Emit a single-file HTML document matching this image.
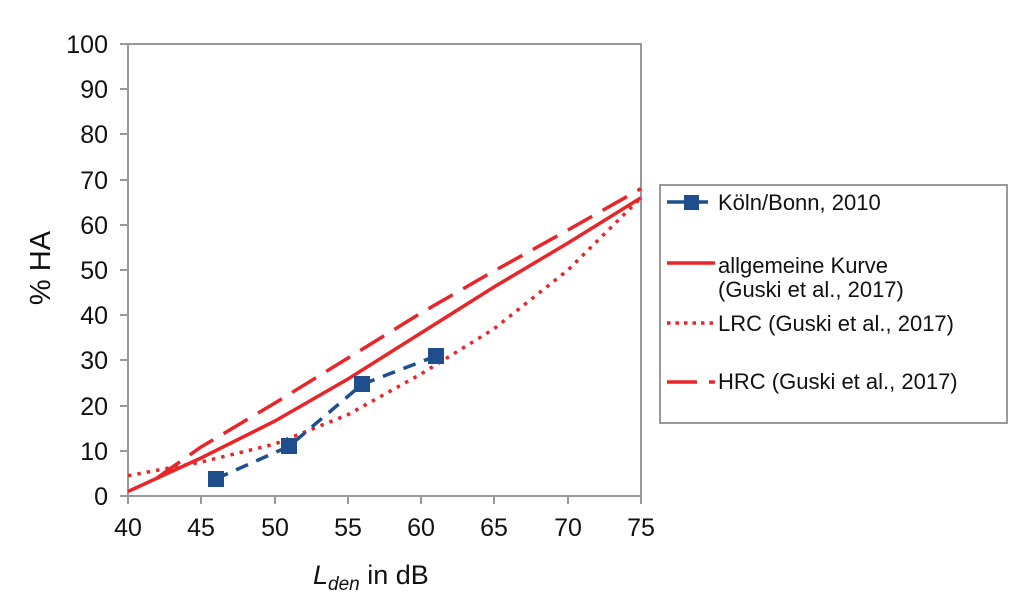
<!DOCTYPE html><html><head><style>body{margin:0;background:#fff}svg text{font-family:"Liberation Sans",sans-serif}</style></head><body>
<svg width="1024" height="599" viewBox="0 0 1024 599">
<g stroke="#999" stroke-width="2" fill="none">
<path d="M128,44H641V496H128Z"/>
<path d="M120,44H128M120,89H128M120,134H128M120,180H128M120,225H128M120,270H128M120,315H128M120,360H128M120,406H128M120,451H128M120,496H128"/>
<path d="M128,496V504M201,496V504M275,496V504M348,496V504M421,496V504M494,496V504M568,496V504M641,496V504"/>
</g>
<g font-size="25" text-anchor="end" fill="#111">
<text x="108" y="53">100</text><text x="108" y="98">90</text><text x="108" y="143">80</text><text x="108" y="189">70</text><text x="108" y="234">60</text><text x="108" y="279">50</text><text x="108" y="324">40</text><text x="108" y="369">30</text><text x="108" y="415">20</text><text x="108" y="460">10</text><text x="108" y="505">0</text>
</g>
<g font-size="25" text-anchor="middle" fill="#111">
<text x="128" y="536">40</text><text x="201" y="536">45</text><text x="275" y="536">50</text><text x="348" y="536">55</text><text x="421" y="536">60</text><text x="494" y="536">65</text><text x="568" y="536">70</text><text x="641" y="536">75</text>
</g>
<text x="313" y="584" font-size="27" fill="#111"><tspan font-style="italic">L</tspan><tspan font-style="italic" font-size="19" dy="6">den</tspan><tspan dy="-6"> in dB</tspan></text>
<text transform="translate(50,268) rotate(-90)" font-size="29" text-anchor="middle" fill="#111">% HA</text>
<g fill="none" stroke="#e8262a" stroke-width="3.5">
<polyline points="128,491.5 201,458 275,421 348,379 421,333 494,287 568,243 641,197.7"/>
<polyline stroke-dasharray="28,12" points="157,477.9 201,447 275,403 348,358 421,313 494,271 568,230 641,188.6"/>
<polyline stroke-dasharray="3.5,6" points="128,475.7 201,462.1 275,444 348,414.6 421,374 494,328.8 568,270 641,197.7"/>
</g>
<polyline fill="none" stroke="#1f4e8c" stroke-width="3.5" stroke-dasharray="13,9" points="216,478.8 289,446.3 362,384.4 436,356"/>
<g fill="#1f4e8c"><rect x="208" y="471" width="16" height="16"/><rect x="281" y="438" width="16" height="16"/><rect x="354" y="376" width="16" height="16"/><rect x="428" y="348" width="16" height="16"/></g>
<rect x="660" y="185" width="347" height="238" fill="none" stroke="#999" stroke-width="2"/>
<g font-size="22" fill="#111">
<text x="718" y="210">Köln/Bonn, 2010</text>
<text x="718" y="273">allgemeine Kurve</text><text x="718" y="297">(Guski et al., 2017)</text>
<text x="718" y="331">LRC (Guski et al., 2017)</text>
<text x="718" y="389">HRC (Guski et al., 2017)</text>
</g>
<path d="M667,202H708" stroke="#1f4e8c" stroke-width="3.5"/><rect x="684" y="195" width="15" height="15" fill="#1f4e8c"/>
<path d="M667,263H715" stroke="#e8262a" stroke-width="3.5"/>
<path d="M667,323H715" stroke="#e8262a" stroke-width="3.5" stroke-dasharray="3.5,5"/>
<path d="M667,382H697M709,382H715" stroke="#e8262a" stroke-width="3.5"/>
</svg></body></html>
